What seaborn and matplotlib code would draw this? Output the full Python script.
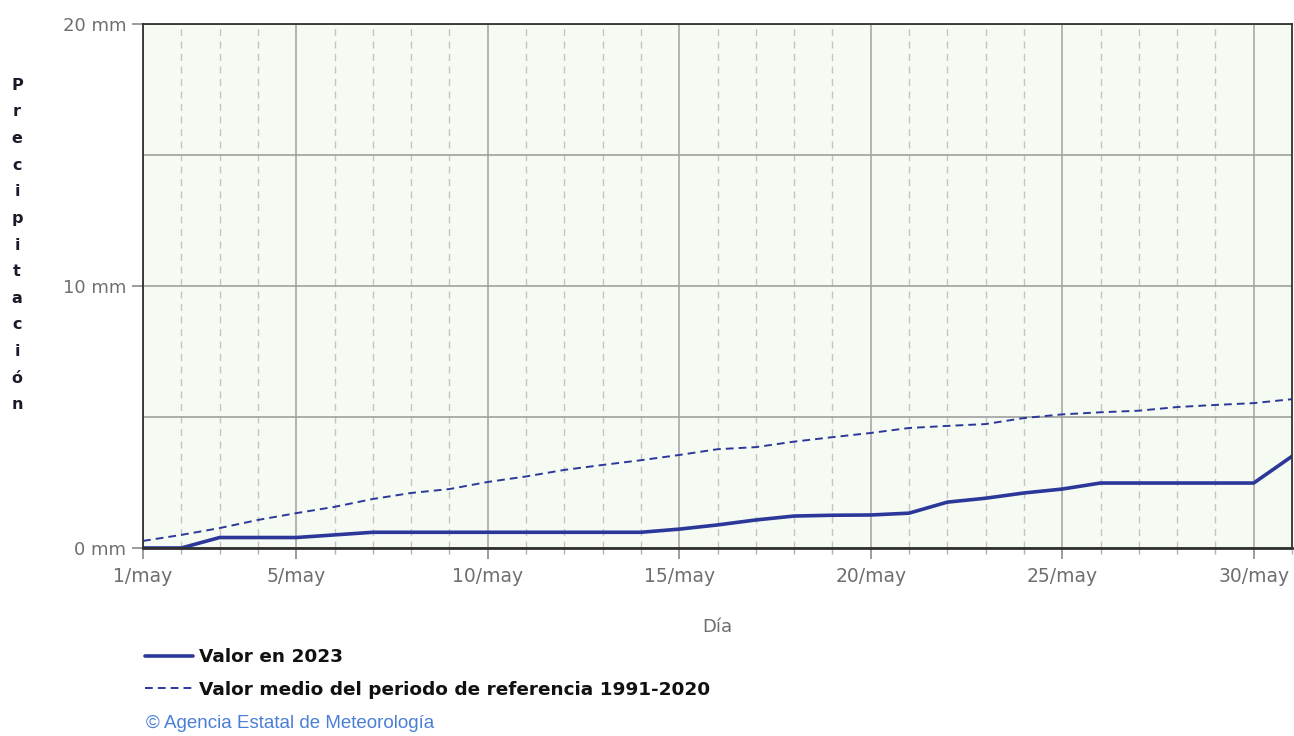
import numpy as np
import pandas as pd
import matplotlib.pyplot as plt
import seaborn as sns
from matplotlib.ticker import FixedLocator, MultipleLocator

# ---------------------------------------------------------------------------
# Data (accumulated precipitation, mm, May)
# ---------------------------------------------------------------------------
dias = list(range(1, 32))
valor_2023 = [0.0, 0.0, 0.4, 0.4, 0.4, 0.5, 0.6, 0.6, 0.6, 0.6,
              0.6, 0.6, 0.6, 0.6, 0.72, 0.88, 1.07, 1.22, 1.25, 1.26,
              1.33, 1.75, 1.9, 2.1, 2.25, 2.48, 2.48, 2.48, 2.48, 2.48,
              3.5]
valor_medio = [0.27, 0.5, 0.76, 1.07, 1.33, 1.57, 1.87, 2.1, 2.25, 2.52,
               2.73, 2.98, 3.17, 3.35, 3.55, 3.77, 3.85, 4.06, 4.23, 4.39,
               4.58, 4.66, 4.73, 4.96, 5.1, 5.18, 5.24, 5.38, 5.46, 5.53,
               5.68]
x_ticks = [1, 5, 10, 15, 20, 25, 30]
x_tick_labels = ["1/may", "5/may", "10/may", "15/may", "20/may", "25/may", "30/may"]
y_ticks = [0, 10, 20]
y_tick_labels = ["0 mm", "10 mm", "20 mm"]

LINE_COLOR = "#2b3899"
GRAY_TEXT = "#6e6e6e"

df = pd.DataFrame({"dia": dias, "v2023": valor_2023, "medio": valor_medio})

sns.set_theme(style="white")
plt.rcParams["font.family"] = ["DejaVu Sans"]

fig = plt.figure(figsize=(12.94, 7.36), dpi=100)
ax = fig.add_axes([143 / 1294, 188 / 736, 1149 / 1294, 524 / 736])
ax.set_facecolor("#f5faf2")

sns.lineplot(data=df, x="dia", y="v2023", ax=ax, color=LINE_COLOR,
             linewidth=2.6, label="Valor en 2023")
sns.lineplot(data=df, x="dia", y="medio", ax=ax, color=LINE_COLOR,
             linewidth=1.4, linestyle=(0, (4, 2.6)),
             label="Valor medio del periodo de referencia 1991-2020")

ax.set_xlim(1, 31)
ax.set_ylim(0, 20)

# grid: solid every 5 days / 5 mm, dashed every day
ax.xaxis.set_major_locator(FixedLocator(x_ticks))
ax.xaxis.set_minor_locator(MultipleLocator(1))
ax.yaxis.set_major_locator(FixedLocator(y_ticks))
ax.yaxis.set_minor_locator(FixedLocator([5, 15]))
ax.set_xticklabels(x_tick_labels)
ax.set_yticklabels(y_tick_labels)

ax.grid(which="major", axis="x", color="#a8a8a8", linewidth=1.2, linestyle="-")
ax.grid(which="minor", axis="x", color="#c4c4c4", linewidth=1.0, linestyle=(0, (5, 4)))
ax.grid(which="major", axis="y", color="#a0a0a0", linewidth=1.2, linestyle="-")
ax.grid(which="minor", axis="y", color="#a0a0a0", linewidth=1.2, linestyle="-")
ax.set_axisbelow(True)

ax.tick_params(axis="x", which="major", length=8, width=1.2, color="#8a8a8a",
               labelsize=13.5, labelcolor=GRAY_TEXT, pad=6, bottom=True)
ax.tick_params(axis="x", which="minor", length=4, width=1.0, color="#b0b0b0", bottom=True)
ax.tick_params(axis="y", which="major", length=8, width=1.2, color="#8a8a8a",
               labelsize=13, labelcolor=GRAY_TEXT, pad=4, left=True)
ax.tick_params(axis="y", which="minor", length=0)

for side in ["left", "top", "right"]:
    ax.spines[side].set_color("#303030")
    ax.spines[side].set_linewidth(1.3)
ax.spines["bottom"].set_color("#303030")
ax.spines["bottom"].set_linewidth(2.0)

ax.set_xlabel("Día", fontsize=13, color=GRAY_TEXT, labelpad=23)
ax.set_ylabel("")

# vertical stacked y label
fig.text(17 / 1294, 1 - 245 / 736, "\n".join("Precipitación"), ha="center", va="center",
         fontsize=11.5, fontweight="bold", color="#1a1a2a", linespacing=1.97)

leg = ax.legend(loc="upper left", bbox_to_anchor=(145 / 1294, 1 - 648 / 736),
                bbox_transform=fig.transFigure, frameon=False, fontsize=13.3,
                handlelength=2.6, handletextpad=0.35, labelspacing=0.8,
                borderpad=0, borderaxespad=0)
for t in leg.get_texts():
    t.set_fontweight("bold")
    t.set_color("#111111")

fig.text(146 / 1294, 1 - 723 / 736, "© Agencia Estatal de Meteorología", ha="left",
         va="center", fontsize=13.5, color="#4a7fd8", family=["Liberation Sans", "DejaVu Sans"])

fig.savefig("out.png", dpi=100)
